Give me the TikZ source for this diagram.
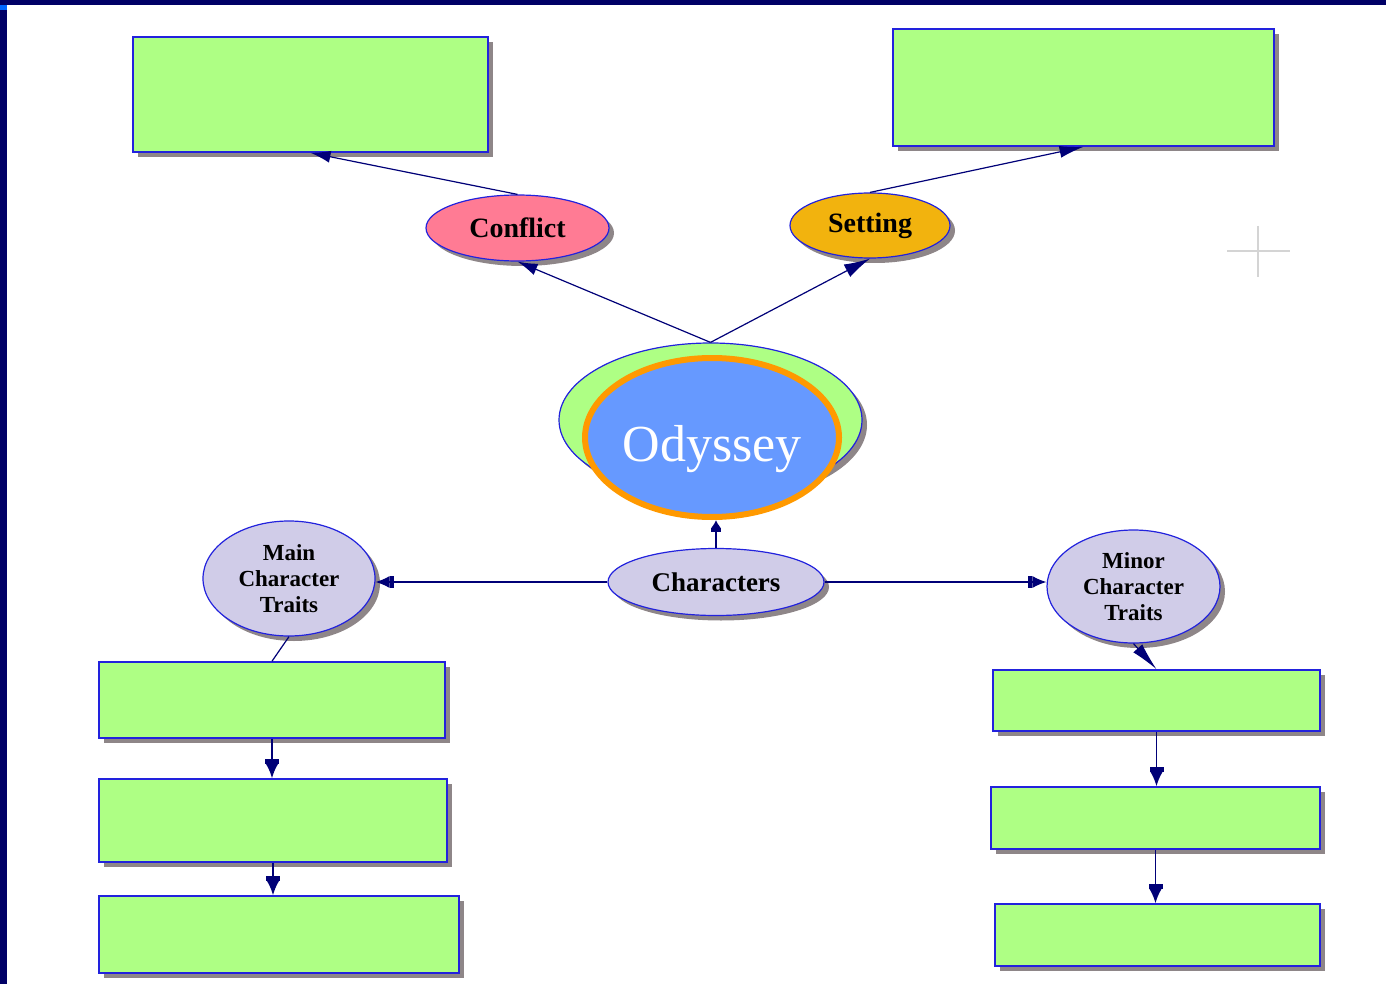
\documentclass[tikz,border=0pt]{standalone}
\usepackage{fontspec}
\setmainfont{Liberation Serif}
\usetikzlibrary{arrows.meta, positioning, shapes.geometric, shadows}

\definecolor{framenavy}{HTML}{000066}
\definecolor{framebright}{HTML}{0066FF}
\definecolor{lineblue}{HTML}{2222DD}
\definecolor{arrownavy}{HTML}{000077}
\definecolor{boxgreen}{HTML}{AEFF84}
\definecolor{shadowgray}{HTML}{8E8688}
\definecolor{conflictpink}{HTML}{FF7B94}
\definecolor{settinggold}{HTML}{F2B30E}
\definecolor{traitlilac}{HTML}{D0CCE8}
\definecolor{odyblue}{HTML}{6699FF}
\definecolor{odyorange}{HTML}{FF9900}
\definecolor{crossgray}{HTML}{D4D4D4}

\begin{document}
\begin{tikzpicture}[
				x=0.5pt, y=-0.5pt,
				font=\bfseries\fontsize{14}{16}\selectfont,
				shade/.style={
					drop shadow={shadow xshift=2.5pt, shadow yshift=-2.5pt,
						fill=shadowgray, opacity=1}
				},
				box/.style={
					draw=lineblue,
					fill=boxgreen,
					rectangle,
					line width=0.8pt,
					inner sep=0pt,
					shade
				},
				bubble/.style={
					draw=lineblue,
					ellipse,
					line width=0.6pt,
					inner sep=0pt,
					align=center,
					shade
				},
				traits/.style={
					bubble,
					fill=traitlilac,
					font=\bfseries\fontsize{11.5}{13}\selectfont
				},
				arrow/.style={draw=arrownavy, line width=0.6pt,
					-{Latex[length=10pt, width=6pt]}},
				stackarrow/.style={draw=arrownavy, line width=0.8pt,
					-{Rectangle[length=2.5pt, width=7pt]Latex[length=7pt, width=6pt]}}
				]
				
				\useasboundingbox (0,0) rectangle (1386,984);
				
				% frame
				\fill[framenavy] (0,0) rectangle (1386,5);
				\fill[framenavy] (0,0) rectangle (7,984);
				\fill[framebright] (0,5) rectangle (7,10);
				
				% top row
				\node[box, minimum width=177.5pt, minimum height=57.5pt] (conflictbox) at (310.5,94.5) {};
				\node[box, minimum width=190.5pt, minimum height=58.5pt] (settingbox) at (1083.5,87.5) {};
				
				\node[bubble, fill=conflictpink, minimum width=91.5pt, minimum height=33pt] (conflict) at (517.5,228) {Conflict};
				\node[bubble, fill=settinggold, minimum width=80pt, minimum height=32.5pt] (setting) at (870,225.5) {Setting};
				
				% centre
				\node[bubble, fill=boxgreen, minimum width=151.5pt, minimum height=77pt] (odyback) at (710.5,420) {};
				\node[ellipse, draw=odyorange, line width=3pt, fill=odyblue, inner sep=0pt,
					minimum width=127pt, minimum height=79.5pt] (ody) at (712,437.5) {};
				\node[text=white, font=\fontsize{26}{28}\selectfont] (odylabel) at ([yshift=-6pt]ody.center) {Odyssey};
				
				\node[bubble, fill=traitlilac, minimum width=108pt, minimum height=33.5pt,
					font=\bfseries\fontsize{13.5}{16}\selectfont] (chars) at (716,582) {Characters};
				
				% sides
				\node[traits, minimum width=86pt, minimum height=57.5pt] (maintraits) at (289,578.5) {Main\\Character\\Traits};
				\node[traits, minimum width=86.5pt, minimum height=56.5pt] (minortraits) at (1133.5,586.5) {Minor\\Character\\Traits};
				
				\node[box, minimum width=173pt, minimum height=38pt] (main1) at (272,700) {};
				\node[box, minimum width=174pt, minimum height=41.5pt] (main2) at (273,820.5) {};
				\node[box, minimum width=180pt, minimum height=38.5pt] (main3) at (279,934.5) {};
				
				\node[box, minimum width=163.5pt, minimum height=30.5pt] (minor1) at (1156.5,700.5) {};
				\node[box, minimum width=164.5pt, minimum height=31pt] (minor2) at (1155.5,818) {};
				\node[box, minimum width=162.5pt, minimum height=31pt] (minor3) at (1157.5,935) {};
				
				% marker
				\draw[crossgray, line width=1pt] (1227,251) -- (1290,251);
				\draw[crossgray, line width=1pt] (1258,226) -- (1258,277);
				
				% arrows
				\draw[arrow] (odyback.north) -- (conflict.south);
				\draw[arrow, -{Latex[length=13pt, width=7pt]}] (odyback.north) -- (setting.south);
				\draw[arrow] (conflict.north) -- (conflictbox.south);
				\draw[arrow, -{Latex[length=12pt, width=6pt]}] (setting.north) -- (settingbox.south);
				
				\draw[draw=arrownavy, line width=0.8pt,
					-{Rectangle[length=2pt, width=5pt]Latex[length=4pt, width=5pt]}] (chars.north) -- (chars.north |- ody.south);
				\draw[arrow, -{Rectangle[length=2pt, width=6pt]Latex[length=7pt, width=6pt]}] (chars.west) -- (chars.west -| maintraits.east);
				\draw[arrow, -{Rectangle[length=2pt, width=6pt]Latex[length=7pt, width=6pt]}] (chars.east) -- (chars.east -| minortraits.west);
				
				\draw[draw=arrownavy, line width=0.6pt] (maintraits.south) -- (main1.north);
				\draw[arrow, -{Latex[length=14pt, width=6pt]}] (minortraits.south) -- (minor1.north);
				
				\draw[stackarrow] (main1.south) -- (main1.south |- main2.north);
				\draw[stackarrow] (main2.south) -- (main2.south |- main3.north);
				\draw[stackarrow] (minor1.south) -- (minor1.south |- minor2.north);
				\draw[stackarrow] (minor2.south) -- (minor2.south |- minor3.north);
				
			\end{tikzpicture}
\end{document}
